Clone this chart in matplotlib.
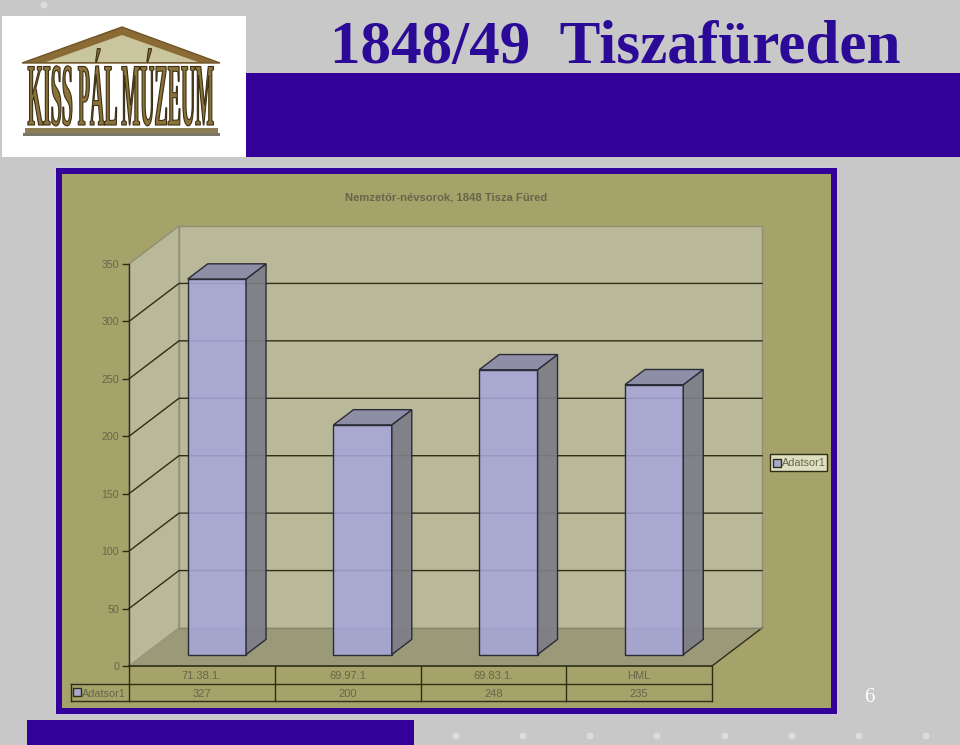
import matplotlib
matplotlib.use("Agg")
import matplotlib.pyplot as plt
import matplotlib.patheffects as pe
from matplotlib.patches import Rectangle, Polygon, Circle
from matplotlib.transforms import Affine2D

# --- data ---
categories = ["71.38.1.", "69.97.1", "69.83.1.", "HML"]
values = [327, 200, 248, 235]
y_ticks = [0, 50, 100, 150, 200, 250, 300, 350]
series_name = "Adatsor1"
chart_title = "Nemzetőr-névsorok, 1848 Tisza Füred"

W, H = 960, 745
PURPLE = "#330099"
GREY = "#c8c8c8"
PANEL = "#a5a369"
WALL = "#b9b899"
FLOOR = "#9b9a78"
TXT = "#66664a"
DARK = "#2e2e18"
SANS = "Liberation Sans"

plt.rcParams["font.family"] = [SANS, "DejaVu Sans"]


class Stretch(pe.AbstractPathEffect):
    # makes the logo letters tall and narrow, the text stays a text
    def __init__(self, k, cy, edge):
        super().__init__()
        self.k, self.cy, self.edge = k, cy, edge

    def draw_path(self, renderer, gc, tpath, affine, rgbFace=None):
        gc0 = renderer.new_gc()
        gc0.copy_properties(gc)
        gc0.set_foreground(self.edge)
        gc0.set_linewidth(0.8)
        aff = affine + Affine2D().translate(0, -self.cy).scale(1, self.k).translate(0, self.cy)
        renderer.draw_path(gc0, tpath, aff, rgbFace)
        gc0.restore()


fig = plt.figure(figsize=(W / 100, H / 100), dpi=100, facecolor=GREY)

# page decoration, in pixels
bg = fig.add_axes([0, 0, 1, 1])
bg.set_xlim(0, W)
bg.set_ylim(H, 0)
bg.axis("off")

for cx, cy in [(44, 5), (456, 736), (523, 736), (590, 736), (657, 736), (725, 736), (792, 736), (859, 736), (926, 736)]:
    bg.add_patch(Circle((cx, cy), 3.5, color="#dcdcdc", lw=0))

bg.add_patch(Rectangle((246, 73), 714, 84, color=PURPLE, lw=0))
bg.add_patch(Rectangle((27, 720), 387, 25, color=PURPLE, lw=0))
bg.text(615, 48, "1848/49  Tiszafüreden", family="Liberation Serif", weight="bold",
        fontsize=44, color="#2a0a96", ha="center", va="center")
bg.text(869, 698, "6", family="Liberation Serif", fontsize=15, color="white", ha="center", va="center")

# logo
bg.add_patch(Rectangle((2, 16), 244, 141, color="white", lw=0))
bg.add_patch(Polygon([(22, 63), (122, 27), (220, 63)], fc="#8a6a35", ec="#6e5528", lw=1))
bg.add_patch(Polygon([(46, 62), (122, 35), (198, 62)], fc="#c9c59c", lw=0))
bg.add_patch(Rectangle((25, 128), 193, 5, color="#8d7d55", lw=0))
bg.add_patch(Rectangle((23, 133), 197, 3, color="#77776a", lw=0))
logo = bg.text(121, 125, "KISS PÁL MÚZEUM", family="Liberation Serif", weight="bold",
               fontsize=14.3, color="#8a7238", ha="center", va="baseline")
logo.set_path_effects([Stretch(4.5, H - 125, "#3d3015")])

# chart panel
bg.add_patch(Rectangle((55, 167), 783, 548, color="#cfc6e6", lw=0))
bg.add_patch(Rectangle((56, 168), 781, 546, color=PURPLE, lw=0))
bg.add_patch(Rectangle((62, 174), 769, 534, color=PANEL, lw=0))
bg.text(446, 197, chart_title, weight="bold", fontsize=8.15, color=TXT, ha="center", va="center")

# legend box on the right
bg.add_patch(Rectangle((770, 454), 57, 17, fc="#dfdfc2", ec=DARK, lw=1))
bg.add_patch(Rectangle((773, 459), 8, 8, fc="#a9a9cf", ec=DARK, lw=1))
bg.text(826, 463, series_name, fontsize=7.8, color=TXT, ha="right", va="center")

# chart itself, front plane of the 3d box
ax = fig.add_axes([129 / W, 1 - 666 / H, 583 / W, 402 / H])
ax.set_xlim(0, len(categories))
ax.set_ylim(0, 350)
ax.patch.set_visible(False)
for s in ["top", "right", "bottom"]:
    ax.spines[s].set_visible(False)
ax.spines["left"].set_color(DARK)
ax.spines["left"].set_linewidth(1)
ax.set_xticks([])
ax.set_yticks(y_ticks)
ax.tick_params(axis="y", length=5, width=1, color=DARK, labelcolor=TXT, labelsize=7.7, pad=2)

# depth of the box in data units
dx = 50 / (583 / len(categories))
dy = 38 / (402 / 350)
n = len(categories)
top = y_ticks[-1]

ax.add_patch(Polygon([(dx, dy), (n + dx, dy), (n + dx, top + dy), (dx, top + dy)], fc=WALL, ec="#8f8f76", lw=1, clip_on=False, zorder=1))
ax.add_patch(Polygon([(0, 0), (dx, dy), (dx, top + dy), (0, top)], fc=WALL, ec="#8f8f76", lw=1, clip_on=False, zorder=1))
ax.add_patch(Polygon([(0, 0), (n, 0), (n + dx, dy), (dx, dy)], fc=FLOOR, lw=0, clip_on=False, zorder=1))
ax.plot([n, n + dx], [0, dy], color=DARK, lw=1, clip_on=False, zorder=2)
ax.plot([dx, n + dx], [dy, dy], color="#85856a", lw=1, clip_on=False, zorder=2)

for t in y_ticks[1:-1]:
    ax.plot([0, dx, n + dx], [t, t + dy, t + dy], color=DARK, lw=1, clip_on=False, zorder=2)

# bars, a bit see through like the original
bar_w = 0.4
d0, d1 = 0.3, 0.7
edge = "#2b2b38"
xs = [i + 0.5 - bar_w / 2 + d0 * dx for i in range(n)]
ax.bar(xs, values, width=bar_w, bottom=d0 * dy, align="edge",
       facecolor=(0.65, 0.65, 0.85, 0.88), edgecolor=edge, linewidth=1, clip_on=False, zorder=3)
for x0, v in zip(xs, values):
    x1 = x0 + bar_w
    b = d0 * dy
    off_x, off_y = (d1 - d0) * dx, (d1 - d0) * dy
    ax.add_patch(Polygon([(x1, b), (x1 + off_x, b + off_y), (x1 + off_x, b + v + off_y), (x1, b + v)],
                         fc=(0.49, 0.49, 0.53, 0.92), ec=edge, lw=1, clip_on=False, zorder=3))
    ax.add_patch(Polygon([(x0, b + v), (x0 + off_x, b + v + off_y), (x1 + off_x, b + v + off_y), (x1, b + v)],
                         fc=(0.55, 0.55, 0.66, 0.95), ec=edge, lw=1, clip_on=False, zorder=3))

# data table under the chart
row = 17.5 / (402 / 350)
legend_left = -58 / (583 / n)
ax.plot([0, n], [0, 0], color=DARK, lw=1.2, clip_on=False, zorder=4)
ax.plot([legend_left, n], [-row, -row], color=DARK, lw=1, clip_on=False, zorder=4)
ax.plot([legend_left, n], [-2 * row, -2 * row], color=DARK, lw=1, clip_on=False, zorder=4)
ax.plot([legend_left, legend_left], [-row, -2 * row], color=DARK, lw=1, clip_on=False, zorder=4)
for i in range(n + 1):
    ax.plot([i, i], [0, -2 * row], color=DARK, lw=1, clip_on=False, zorder=4)
for i, (c, v) in enumerate(zip(categories, values)):
    ax.text(i + 0.5, -0.55 * row, c, fontsize=8, color=TXT, ha="center", va="center", clip_on=False)
    ax.text(i + 0.5, -1.6 * row, str(v), fontsize=8, color=TXT, ha="center", va="center", clip_on=False)
sw = 8 / (583 / n)
ax.add_patch(Rectangle((legend_left + 0.015, -1.5 * row - 3.5), sw, 7, fc="#a9a9cf", ec=DARK, lw=1, clip_on=False, zorder=4))
ax.text(-0.02, -1.6 * row, series_name, fontsize=7.8, color=TXT, ha="right", va="center", clip_on=False)

fig.savefig("out.png", dpi=100, facecolor=GREY)
